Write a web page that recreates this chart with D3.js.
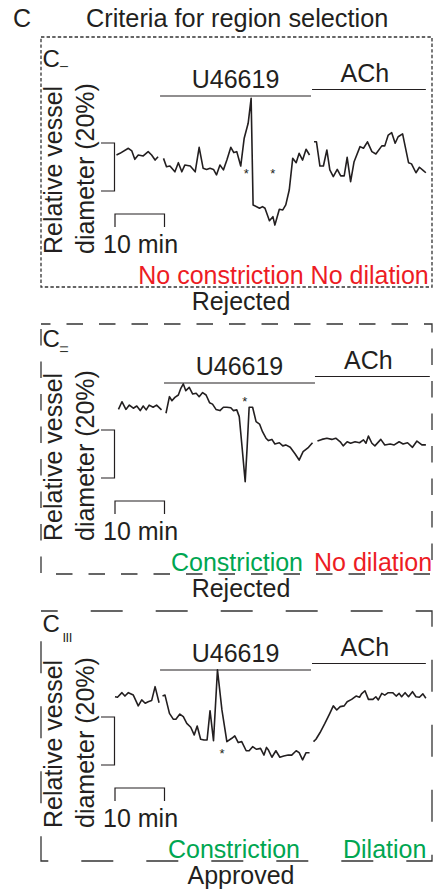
<!DOCTYPE html>
<html lang="en">
<head>
  <meta charset="UTF-8">
  <title>Criteria for region selection</title>
  <script src="https://d3js.org/d3.v7.min.js"></script>
  <style>
    body {
      margin: 0;
      padding: 0;
      background-color: white;
    }
    svg text {
      font-family: "Liberation Sans", Arial, Helvetica, sans-serif;
      fill: #231f20;
    }
  </style>
</head>
<body>
  <script>
    // traces: [time (min), relative diameter (%)]; null = gap in the recording
    const traceI = [
      [0.3,100.0],[1.0,100.7],[2.7,102.8],[3.4,101.7],[4.0,98.2],[4.7,100.0],[5.7,99.6],[6.7,101.4],[7.4,100.0],[8.1,97.9],[8.7,99.3],
      [9.2,null],
      [9.8,98.6],[10.4,95.1],[11.1,95.4],[12.1,93.0],[12.8,96.8],[13.5,93.0],[14.1,95.8],[15.2,95.4],[16.2,93.0],[17.0,103.2],[17.8,94.5],
      [18.5,94.0],[19.2,94.5],[19.9,94.0],[20.5,91.7],[21.2,95.8],[21.9,93.8],[22.6,97.9],[23.4,103.2],[24.0,101.0],[24.6,101.4],[25.4,95.4],
      [26.1,107.0],[26.9,113.2],[27.5,123.6],[27.9,79.2],[29.2,77.8],[29.8,78.5],[30.3,77.8],[31.2,72.6],[31.9,74.3],[32.3,70.8],[33.2,77.4],
      [33.9,77.1],[34.5,79.2],[35.2,85.4],[35.9,98.6],[36.6,96.8],[37.2,100.7],[37.9,97.9],[38.6,102.4],[39.3,100.0],
      [39.7,null],
      [40.2,105.5],[40.7,105.5],[41.4,95.4],[42.1,95.4],[42.8,102.1],[43.4,93.8],[44.1,91.0],[44.9,94.0],[45.6,91.3],[46.3,91.3],[46.9,99.0],
      [47.6,88.9],[48.3,97.2],[49.5,103.5],[50.2,102.8],[51.0,105.5],[51.9,101.4],[52.7,100.4],[53.9,103.8],[54.5,103.8],[55.2,108.3],
      [55.9,109.3],[56.6,104.9],[57.2,107.6],[58.1,108.8],[59.3,96.8],[59.9,96.3],[60.8,92.6],[61.5,94.9],[62.3,93.5],[62.8,92.6]
    ];
    const traceII = [
      [0.7,99.0],[1.4,102.2],[2.2,99.0],[2.9,100.8],[3.7,99.5],[4.4,100.4],[5.1,98.5],[5.7,100.4],[6.3,98.8],[6.9,100.8],[7.7,99.9],[8.4,100.8],[9.4,98.8],
      [9.9,null],
      [10.3,97.4],[11.0,104.3],[11.5,102.6],[12.1,104.0],[12.8,105.0],[13.3,107.8],[13.8,109.6],[14.3,106.8],[15.0,108.2],[15.7,105.4],
      [16.4,105.7],[17.0,104.3],[17.7,106.0],[18.4,105.0],[19.1,101.8],[19.7,101.2],[20.4,99.0],[21.2,98.5],[21.9,99.9],[22.6,99.9],
      [23.4,99.7],[23.9,98.5],[24.6,98.8],[25.1,96.0],[25.6,84.9],[26.3,68.9],[26.7,83.5],[27.1,99.9],[27.8,99.9],[28.5,93.9],[29.2,92.9],
      [29.8,89.7],[30.5,87.0],[31.0,86.0],[31.7,86.5],[32.3,84.6],[33.2,85.1],[33.9,83.8],[34.5,84.2],[35.4,83.2],[36.4,80.4],[37.2,77.9],
      [38.0,81.4],[39.1,83.2],[39.9,85.1],
      [40.4,null],
      [40.9,85.8],[41.8,86.5],[42.8,87.0],[43.8,86.5],[44.6,87.0],[45.5,85.5],[46.1,83.8],[46.9,85.5],[47.6,84.9],[48.5,85.5],[49.4,85.1],
      [50.2,86.3],[50.7,84.9],[51.2,87.9],[51.9,84.9],[52.5,83.8],[53.7,86.5],[54.5,84.2],[55.6,84.6],[56.4,84.2],[57.4,85.5],[58.2,84.6],
      [59.1,85.1],[60.1,83.2],[61.0,85.8],[62.0,84.2],[62.8,84.2]
    ];
    const traceIII = [
      [0.0,100.1],[0.5,99.9],[1.4,101.8],[2.0,100.4],[2.7,101.8],[3.7,100.8],[4.7,96.3],[5.4,98.8],[6.1,97.4],[6.7,98.0],[7.4,98.5],[8.1,104.3],[8.9,97.6],
      [9.3,null],
      [9.6,100.4],[10.1,100.8],[11.0,93.2],[11.8,90.7],[12.3,90.7],[13.1,92.9],[13.8,91.8],[14.5,89.0],[15.3,87.4],[16.0,84.2],[16.6,87.9],
      [17.3,82.4],[18.0,82.1],[18.6,82.1],[19.2,94.3],[19.9,81.8],[20.7,111.3],[21.6,94.6],[22.6,81.4],[23.6,82.8],[24.2,83.8],[24.9,81.0],
      [25.6,81.4],[26.5,77.6],[27.1,77.6],[27.8,79.3],[28.6,78.2],[29.4,78.6],[30.1,75.8],[30.6,79.0],[31.0,77.9],[31.7,74.9],[32.5,77.6],
      [33.3,74.9],[34.1,75.4],[35.0,75.8],[35.7,75.8],[36.6,77.6],[37.2,76.8],[37.9,73.8],[38.6,76.8],[39.3,76.8],
      [39.7,null],
      [40.1,81.4],[40.6,82.4],[41.4,85.1],[42.4,89.0],[43.4,93.2],[44.1,96.3],[44.8,94.6],[45.5,96.0],[46.3,96.3],[46.9,98.0],[47.8,99.0],
      [48.7,100.4],[49.4,99.9],[49.8,101.3],[50.5,102.6],[51.2,99.0],[52.1,99.0],[52.7,100.1],[53.2,98.8],[53.9,101.5],[54.5,100.8],
      [55.2,101.8],[56.1,101.8],[56.8,100.4],[57.4,101.5],[57.9,100.1],[58.6,101.8],[59.3,100.1],[60.1,102.2],[60.8,100.1],[61.5,99.9],
      [62.2,101.3],[62.8,99.5]
    ];

    // drug application windows (min)
    const u46619Windows = [[9.1, 39.6], [9.9, 40.4], [9.1, 39.6]];
    const achWindows = [[39.8, 62.8], [40.4, 63.6], [39.8, 62.8]];

    // asterisks [time, diameter]
    const starsI = [[26.5, 93.3], [31.9, 93.3]];
    const starsII = [[26.2, 103.3]];
    const starsIII = [[21.6, 77.5]];

    const panelNames = ["I", "II", "III"];
    const verdictsI = [["No constriction", false], ["No dilation", false]];
    const verdictsII = [["Constriction", true], ["No dilation", false]];
    const verdictsIII = [["Constriction", true], ["Dilation", true]];
    const decisions = ["Rejected", "Rejected", "Approved"];

    const scaleMin = 10;   // time scale bar
    const scalePct = 20;   // diameter scale bar

    // layout
    const width = 436, height = 890;
    const red = "#ed1c24", green = "#00a651", ink = "#231f20";
    const fs = 25;

    const svg = d3.select("body").append("svg")
      .attr("width", width)
      .attr("height", height);

    svg.append("text").attr("x", 13).attr("y", 27).style("font-size", fs + "px").text("C");
    svg.append("text").attr("x", 86).attr("y", 27).style("font-size", "25.3px").text("Criteria for region selection");

    const x = d3.scaleLinear().domain([0, 63]).range([115, 426.85]);

    const panels = [
      { off: 0,   base: 155, trace: traceI,   stars: starsI,   verdicts: verdictsI,   vx: [138.3, 310.6], dash: "3.4,2.2", dashOff: 0,   labelY: 67 },
      { off: 287, base: 120, trace: traceII,  stars: starsII,  verdicts: verdictsII,  vx: [171, 314],     dash: "16.5,16", dashOff: 7, labelY: 60 },
      { off: 574, base: 123, trace: traceIII, stars: starsIII, verdicts: verdictsIII, vx: [168, 343],     dash: "32,33", dashOff: 15.3, labelY: 58 }
    ];

    panels.forEach((p, i) => {
      const g = svg.append("g").attr("transform", `translate(0,${p.off})`);
      const y = d3.scaleLinear().domain([100, 100 - scalePct]).range([p.base, p.base + 48]);

      // dashed box
      g.append("rect")
        .attr("x", 41).attr("y", 37)
        .attr("width", 391).attr("height", 250)
        .attr("fill", "none")
        .attr("stroke", "#333")
        .attr("stroke-width", 1.3)
        .attr("stroke-dasharray", p.dash)
        .attr("stroke-dashoffset", p.dashOff);

      // panel label
      g.append("text").attr("x", 42.5).attr("y", p.labelY).style("font-size", "24px").text("C");
      if (i < 2) {
        g.append("text")
          .attr("transform", `translate(68,${p.labelY + (i === 0 ? 1 : 6)}) rotate(-90)`)
          .style("font-size", "10px")
          .style("letter-spacing", i === 1 ? "2px" : "0px")
          .text(panelNames[i]);
      } else {
        g.append("text").attr("x", 62.5).attr("y", p.labelY + 10)
          .style("font-size", "13px").style("letter-spacing", "-0.5px")
          .text(panelNames[i]);
      }

      // drug bars
      const uw = u46619Windows[i], aw = achWindows[i];
      g.append("line").attr("x1", x(uw[0])).attr("x2", x(uw[1])).attr("y1", 96).attr("y2", 96)
        .attr("stroke", ink).attr("stroke-width", 1.2);
      g.append("line").attr("x1", x(aw[0])).attr("x2", x(aw[1])).attr("y1", 89.5).attr("y2", 89.5)
        .attr("stroke", ink).attr("stroke-width", 1.2);
      g.append("text").attr("x", (x(uw[0]) + x(uw[1])) / 2).attr("y", 87.5)
        .attr("text-anchor", "middle").style("font-size", fs + "px").text("U46619");
      g.append("text").attr("x", (x(aw[0]) + x(aw[1])) / 2 - 4).attr("y", 81.5)
        .attr("text-anchor", "middle").style("font-size", fs + "px").text("ACh");

      // trace
      const line = d3.line()
        .defined(d => d[1] !== null)
        .x(d => x(d[0]))
        .y(d => y(d[1]));
      g.append("path")
        .datum(p.trace)
        .attr("d", line)
        .attr("fill", "none")
        .attr("stroke", ink)
        .attr("stroke-width", 1.6)
        .attr("stroke-linejoin", "round");

      // asterisks
      g.selectAll(".star").data(p.stars).enter().append("text")
        .attr("class", "star")
        .attr("x", d => x(d[0]))
        .attr("y", d => y(d[1]) + 7)
        .attr("text-anchor", "middle")
        .style("font-size", "13px")
        .text("*");

      // 20% scale bracket
      const bTop = 143, bLen = y(100 - scalePct) - y(100);
      g.append("path")
        .attr("d", `M101,${bTop}H114.5V${bTop + bLen}H101`)
        .attr("fill", "none").attr("stroke", ink).attr("stroke-width", 1.2);

      // 10 min scale bar
      g.append("path")
        .attr("d", `M${x(0)},227V214H${x(scaleMin)}V227`)
        .attr("fill", "none").attr("stroke", ink).attr("stroke-width", 1.2);
      g.append("text").attr("x", 103).attr("y", 253).style("font-size", fs + "px").text(scaleMin + " min");

      // y label
      g.append("text")
        .attr("transform", "translate(61.5,254) rotate(-90)")
        .style("font-size", fs + "px")
        .text("Relative vessel");
      g.append("text")
        .attr("transform", "translate(94,254) rotate(-90)")
        .style("font-size", fs + "px")
        .text("diameter (" + scalePct + "%)");

      // verdicts
      p.verdicts.forEach((v, j) => {
        g.append("text")
          .attr("x", p.vx[j]).attr("y", 283.5)
          .style("font-size", fs + "px")
          .style("fill", v[1] ? green : red)
          .text(v[0]);
      });

      g.append("text").attr("x", 241).attr("y", 310)
        .attr("text-anchor", "middle").style("font-size", fs + "px")
        .text(decisions[i]);
    });
  </script>
</body>
</html>
